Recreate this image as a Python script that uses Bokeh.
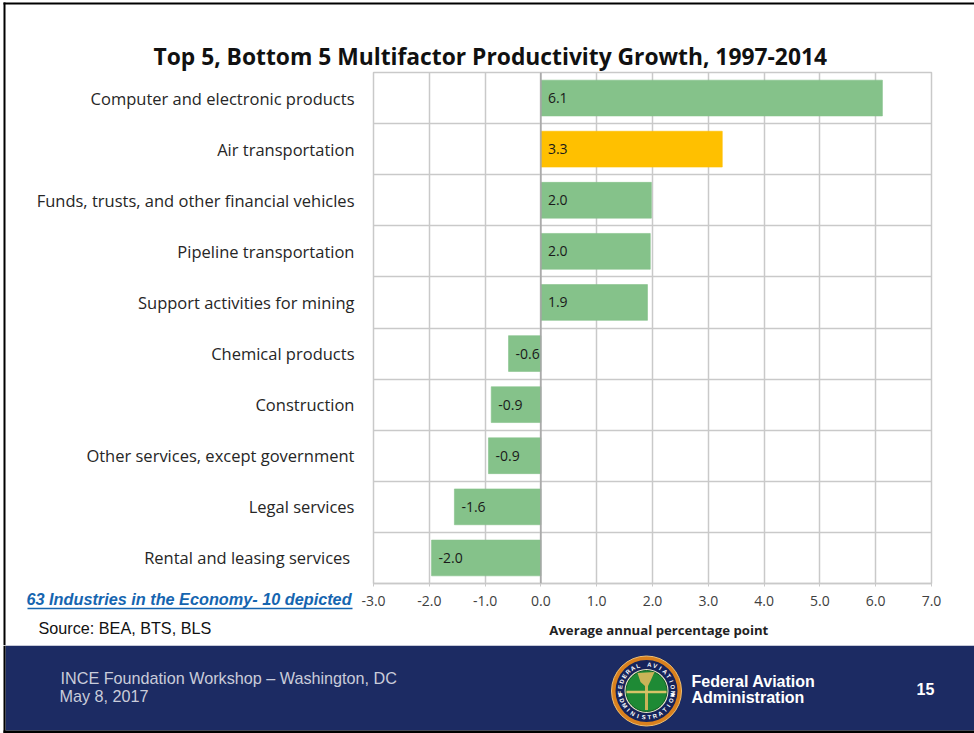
import math
from bokeh.core.properties import value
from bokeh.embed import file_html
from bokeh.layouts import column
from bokeh.models import (ColumnDataSource, FixedTicker, NumeralTickFormatter, Range1d, Span)
from bokeh.plotting import figure
from bokeh.resources import INLINE

title = "Top 5, Bottom 5 Multifactor Productivity Growth, 1997-2014"
categories = ["Computer and electronic products", "Air transportation",
              "Funds, trusts, and other financial vehicles", "Pipeline transportation",
              "Support activities for mining", "Chemical products", "Construction",
              "Other services, except government", "Legal services", "Rental and leasing services"]
values = [6.12, 3.25, 1.98, 1.96, 1.91, -0.58, -0.89, -0.94, -1.55, -1.96]
labels = ["6.1", "3.3", "2.0", "2.0", "1.9", "-0.6", "-0.9", "-0.9", "-1.6", "-2.0"]
colors = ["#85C28A", "#FFC000"] + ["#85C28A"] * 8
x_ticks = [-3, -2, -1, 0, 1, 2, 3, 4, 5, 6, 7]

W, H1, H2 = 974, 645, 88
FL, FR, FT, FB = 373, 931, 72, 583
SANS = "Open Sans"
ARIAL = "Liberation Sans"
GRID = "#C9C9C9"
n = len(categories)
centres = [i + 0.5 for i in range(n)]

p = figure(width=W, height=H1, output_backend="svg", toolbar_location=None,
           x_range=Range1d(-3, 7), y_range=Range1d(n, 0),
           min_border_left=FL, min_border_right=W - FR, min_border_top=FT, min_border_bottom=H1 - FB,
           outline_line_color=GRID, outline_line_width=1.5, frame_align=False)
p.ygrid.ticker = FixedTicker(ticks=list(range(n + 1)))
p.ygrid.grid_line_color = GRID
p.ygrid.grid_line_width = 1.5
p.xgrid.ticker = FixedTicker(ticks=x_ticks)
p.xgrid.grid_line_color = GRID
p.xgrid.grid_line_width = 1.5
p.add_layout(Span(location=0, dimension="height", line_color="#A6A6A6", line_width=1.5))

src = ColumnDataSource(dict(cat=categories, pos=centres, val=values, lab=labels, col=colors,
                            start=[min(v, 0) for v in values]))
p.hbar(y="pos", left=0, right="val", height=0.7, fill_color="col", line_color="col", line_alpha=0.6, source=src)
p.text(x="start", y="pos", text="lab", x_offset=7, text_baseline="middle", text_font=value(SANS),
       text_font_size="14px", text_color="#1A1A1A", source=src)

ax = p.xaxis[0]
ax.ticker = FixedTicker(ticks=x_ticks)
ax.formatter = NumeralTickFormatter(format="0.0")
ax.axis_line_color = GRID
ax.axis_line_width = 1.5
ax.major_tick_line_color = GRID
ax.major_tick_in = 0
ax.major_tick_out = 3
ax.minor_tick_line_color = None
ax.major_label_standoff = 9
ax.major_label_text_font = SANS
ax.major_label_text_font_size = "14px"
ax.major_label_text_color = "#404040"

tick_text = dict(zip(centres, categories))
tick_text[centres[-1]] = categories[-1] + "\u00a0"
ay = p.yaxis[0]
ay.ticker = FixedTicker(ticks=centres)
ay.major_label_overrides = tick_text
ay.axis_line_color = None
ay.major_tick_line_color = None
ay.minor_tick_line_color = None
ay.major_label_standoff = 13
ay.major_label_text_font = SANS
ay.major_label_text_font_size = "16.5px"
ay.major_label_text_color = "#262626"

# a transparent sheet over the chart, in page pixels, for the texts outside the plot frame
q = figure(width=W, height=H1, output_backend="svg", toolbar_location=None,
           x_range=Range1d(0, W), y_range=Range1d(H1, 0), min_border=0, frame_align=False,
           background_fill_alpha=0, border_fill_alpha=0, outline_line_color=None,
           styles={"position": "absolute", "left": "0px", "top": "0px", "pointer-events": "none"})
q.axis.visible = False
q.grid.visible = False


def qtext(x, y, t, size, color, font=ARIAL, style="normal", align="left"):
    q.text(x=[x], y=[y], text=[t], text_font=value(font), text_font_size=size, text_color=color,
           text_font_style=style, text_align=align, text_baseline="middle")


qtext(153, 56, title, "22.8px", "#111111", SANS, "bold")
qtext(26, 598, "63 Industries in the Economy- 10 depicted", "16.25px", "#1565B0", ARIAL, "bold italic")
q.segment(x0=[27], y0=[608], x1=[352], y1=[608], line_color="#1565B0", line_width=1.5)
qtext(38, 627, "Source: BEA, BTS, BLS", "16.2px", "#111111")
qtext(660, 629, "Average annual  percentage point", "13.2px", "#222222", SANS, "bold", "center")
q.quad(left=[3], right=[5], top=[2], bottom=[H1], fill_color="#000000", line_color=None)
q.quad(left=[3], right=[W], top=[2], bottom=[4], fill_color="#000000", line_color=None)

# footer band, in its own pixel-sized space
NAVY = "#1C2B63"
f = figure(width=W, height=H2, output_backend="svg", toolbar_location=None,
           x_range=Range1d(0, W), y_range=Range1d(H2, 0), min_border=0, frame_align=False,
           background_fill_color="#FFFFFF", border_fill_color="#FFFFFF", outline_line_color=None)
f.axis.visible = False
f.grid.visible = False
f.quad(left=[5], right=[W], top=[0], bottom=[85], fill_color=NAVY, line_color=None)
f.quad(left=[3], right=[W], top=[85], bottom=[H2], fill_color="#000000", line_color=None)
f.quad(left=[3], right=[5], top=[0], bottom=[H2], fill_color="#000000", line_color=None)


def ftext(x, y, t, size, color, style="normal", align="left", font=ARIAL):
    f.text(x=[x], y=[y - H1], text=[t], text_font=value(font), text_font_size=size, text_color=color,
           text_font_style=style, text_align=align, text_baseline="middle")


ftext(60, 677, "INCE Foundation Workshop \u2013 Washington, DC", "16.2px", "#C9CCDA")
ftext(59, 695, "May 8, 2017", "16.2px", "#C9CCDA")
ftext(691, 681, "Federal Aviation", "16px", "#FFFFFF", "bold")
ftext(691, 697, "Administration", "16px", "#FFFFFF", "bold")
ftext(916, 688, "15", "16px", "#FFFFFF", "bold")

# seal
cx, cy = 646, 45.5
f.scatter(x=[cx], y=[cy], size=70, fill_color="#D9801E", line_color="#F0C070", line_width=1)
f.scatter(x=[cx], y=[cy], size=62, fill_color="#16235A", line_color=None)
f.scatter(x=[cx], y=[cy], size=44, fill_color="#E8E4C8", line_color=None)
f.scatter(x=[cx], y=[cy], size=41, fill_color="#1E8A35", line_color="#0F5C22", line_width=1)
f.patch(x=[cx - 9, cx + 8, cx + 4, cx + 1.5, cx + 1.5, cx - 1.5, cx - 1.5, cx - 6],
        y=[cy - 18, cy - 19, cy - 10, cy - 5, cy + 19, cy + 19, cy - 5, cy - 9],
        fill_color="#C9B458", line_color=None)
f.segment(x0=[cx - 20], y0=[cy + 1], x1=[cx + 20], y1=[cy + 1], line_color="#D6C468", line_width=2.5)


def arc_text(t, radius, mid_deg, step, inward_top):
    m = len(t)
    for i, ch in enumerate(t):
        d = mid_deg + (i - (m - 1) / 2) * step * (1 if inward_top else -1)
        a = math.radians(d)
        x = cx + radius * math.sin(a)
        y = cy - radius * math.cos(a)
        rot = -a if inward_top else math.pi - a
        f.text(x=[x], y=[y], text=[ch], text_font=value(ARIAL), text_font_size="6px", text_color="#FFFFFF",
               text_font_style="bold", text_align="center", text_baseline="middle", angle=rot)


arc_text("FEDERAL AVIATION", 26.5, 0, 12.5, True)
arc_text("ADMINISTRATION", 26.5, 180, 12.5, False)
f.scatter(x=[cx - 26.5, cx + 26.5], y=[cy + 4, cy + 4], size=3, fill_color="#FFFFFF", line_color=None)

page = column(p, f, q, spacing=0, styles={"position": "relative"})
open("out.html", "w").write(file_html(page, INLINE))
